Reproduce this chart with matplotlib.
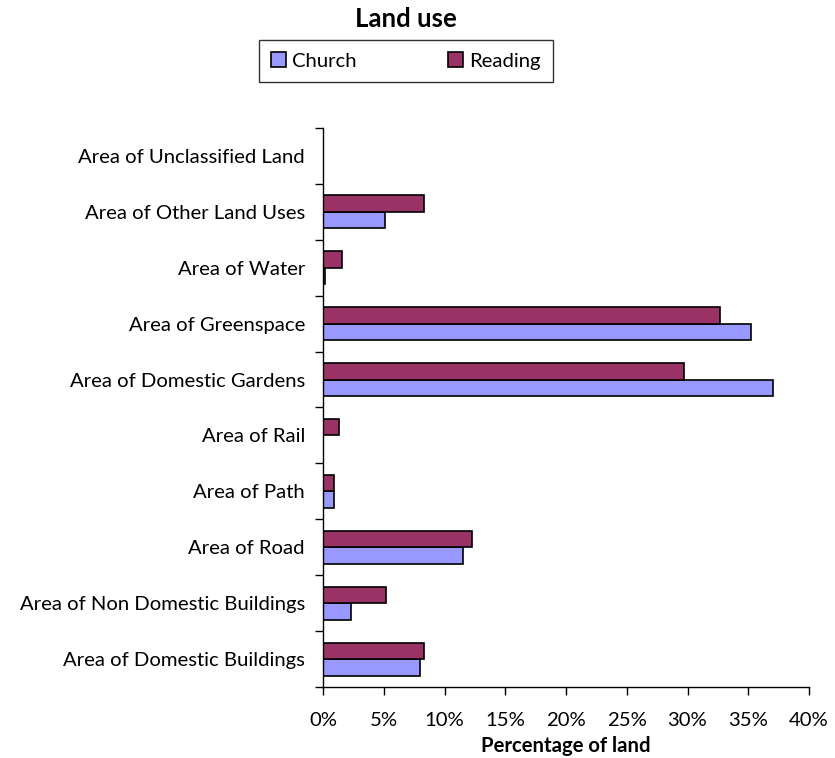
import matplotlib
matplotlib.use("Agg")
import matplotlib.pyplot as plt
import numpy as np
from matplotlib.ticker import FuncFormatter, FixedLocator

categories = [
    "Area of Domestic Buildings",
    "Area of Non Domestic Buildings",
    "Area of Road",
    "Area of Path",
    "Area of Rail",
    "Area of Domestic Gardens",
    "Area of Greenspace",
    "Area of Water",
    "Area of Other Land Uses",
    "Area of Unclassified Land",
]
church = [7.95, 2.3, 11.5, 0.9, 0.0, 37.0, 35.2, 0.2, 5.1, 0.0]
reading = [8.3, 5.2, 12.25, 0.9, 1.3, 29.7, 32.7, 1.6, 8.3, 0.0]
series_names = ["Church", "Reading"]
x_ticks = [0, 5, 10, 15, 20, 25, 30, 35, 40]

plt.rcParams['font.family'] = ['Lato', 'DejaVu Sans']
FS = 14.6

fig = plt.figure(figsize=(8.35, 7.58), dpi=100)
ax = fig.add_axes([323/835, 1-687/758, (809-323)/835, (687-128)/758])

y = np.arange(len(categories))
h = 0.295
ax.barh(y - h/2, church, height=h, color="#9999FF", edgecolor="black", linewidth=1.2, label=series_names[0])
ax.barh(y + h/2, reading, height=h, color="#993366", edgecolor="black", linewidth=1.2, label=series_names[1])

ax.set_xlim(0, 40)
ax.set_ylim(-0.5, len(categories) - 0.5)
ax.xaxis.set_major_locator(FixedLocator(x_ticks))
ax.xaxis.set_major_formatter(FuncFormatter(lambda v, p: f"{int(v)}%"))
ax.set_yticks(y)
ax.set_yticklabels(categories)
ax.yaxis.set_minor_locator(FixedLocator(np.arange(-0.5, len(categories), 1.0)))
ax.tick_params(axis='y', which='major', length=0, pad=13, labelsize=FS)
ax.tick_params(axis='y', which='minor', length=6, width=1, direction='out')
ax.tick_params(axis='x', which='major', length=6, width=1, direction='out', labelsize=FS, pad=12)
for s in ['top', 'right']:
    ax.spines[s].set_visible(False)
for s in ['left', 'bottom']:
    ax.spines[s].set_linewidth(1)

ax.set_xlabel("Percentage of land", fontsize=FS, fontweight='bold', labelpad=5)

fig.text(406/835, 1-19/758, "Land use", ha='center', va='center', fontsize=18.5, fontweight='bold')
leg = fig.legend(loc='center', bbox_to_anchor=(406/835, 1-61/758), ncol=2, fontsize=FS,
                 frameon=True, fancybox=False, edgecolor='black', handlelength=0.75,
                 handleheight=0.75, columnspacing=4.5, handletextpad=0.3, borderpad=0.6,
                 borderaxespad=0)
leg.get_frame().set_linewidth(1)

fig.savefig("out.png", dpi=100)
